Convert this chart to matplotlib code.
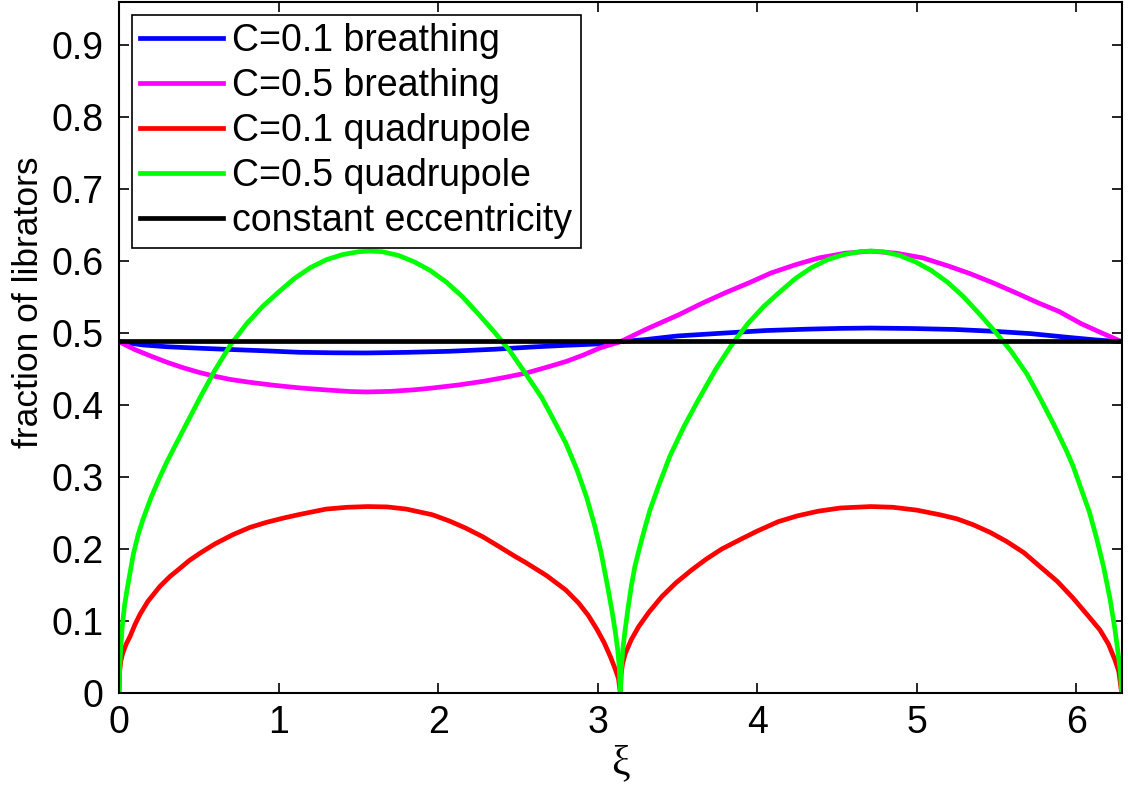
import matplotlib
matplotlib.use("Agg")
import matplotlib.pyplot as plt
from matplotlib.ticker import FuncFormatter

# values
x_quad1 = [0, 0.004, 0.01, 0.02, 0.035, 0.05, 0.07, 0.09, 0.12, 0.15, 0.2, 0.25, 0.3, 0.36, 0.43,
           0.5, 0.6, 0.7, 0.8, 0.9, 1.0, 1.1, 1.2, 1.3, 1.4, 1.5, 1.571, 1.65, 1.75, 1.85, 1.95, 2.05,
           2.15, 2.25, 2.35, 2.45, 2.55, 2.65, 2.72, 2.8, 2.87, 2.93, 2.98, 3.02, 3.06, 3.09, 3.11,
           3.125, 3.135, 3.1416]
green_1 = [0, 0.035, 0.058, 0.092, 0.122, 0.143, 0.168, 0.193, 0.22, 0.241, 0.271, 0.297, 0.321, 0.347,
           0.377, 0.407, 0.448, 0.484, 0.513, 0.537, 0.557, 0.576, 0.591, 0.602, 0.609, 0.613, 0.614,
           0.613, 0.608, 0.599, 0.587, 0.571, 0.551, 0.527, 0.502, 0.475, 0.443, 0.41, 0.381, 0.347,
           0.31, 0.272, 0.233, 0.196, 0.15, 0.113, 0.085, 0.06, 0.035, 0]

x_red1 = [0, 0.004, 0.012, 0.023, 0.045, 0.07, 0.1, 0.131, 0.18, 0.256, 0.32, 0.381, 0.44, 0.506,
          0.6, 0.714, 0.82, 0.923, 1.03, 1.131, 1.22, 1.298, 1.43, 1.558, 1.68, 1.8, 1.964, 2.07,
          2.173, 2.28, 2.381, 2.48, 2.55, 2.68, 2.8, 2.88, 2.94, 2.996, 3.04, 3.08, 3.11, 3.13, 3.1416]
red_1 = [0, 0.03, 0.045, 0.055, 0.068, 0.079, 0.095, 0.109, 0.127, 0.148, 0.162, 0.173, 0.184, 0.194,
         0.207, 0.22, 0.23, 0.237, 0.243, 0.248, 0.252, 0.2555, 0.258, 0.259, 0.2585, 0.2555, 0.2476,
         0.239, 0.229, 0.217, 0.2035, 0.19, 0.181, 0.163, 0.143, 0.125, 0.108, 0.088, 0.07, 0.05,
         0.033, 0.02, 0]

x_quad2 = [3.1416, 3.148, 3.157, 3.17, 3.19, 3.21, 3.233, 3.26, 3.29, 3.327, 3.38, 3.452, 3.54, 3.63,
           3.74, 3.84, 3.94, 4.04, 4.14, 4.24, 4.34, 4.44, 4.54, 4.64, 4.712, 4.79, 4.89, 4.99, 5.09,
           5.19, 5.29, 5.39, 5.49, 5.59, 5.69, 5.771, 5.86, 5.94, 5.979, 6.03, 6.08, 6.126, 6.17,
           6.209, 6.24, 6.261, 6.275, 6.2832]
green_2 = [0, 0.035, 0.06, 0.085, 0.118, 0.148, 0.176, 0.2, 0.225, 0.254, 0.287, 0.329, 0.37, 0.407,
           0.45, 0.484, 0.513, 0.537, 0.557, 0.576, 0.591, 0.602, 0.609, 0.613, 0.614, 0.613, 0.608,
           0.599, 0.587, 0.571, 0.551, 0.527, 0.502, 0.475, 0.443, 0.41, 0.372, 0.335, 0.315, 0.283,
           0.252, 0.215, 0.175, 0.132, 0.09, 0.055, 0.03, 0]

x_red2 = [3.1416, 3.146, 3.155, 3.173, 3.21, 3.256, 3.32, 3.402, 3.49, 3.589, 3.68, 3.777, 3.9, 4.0,
          4.131, 4.25, 4.38, 4.52, 4.712, 4.85, 5.0, 5.144, 5.25, 5.353, 5.46, 5.562, 5.67, 5.771,
          5.88, 5.979, 6.07, 6.147, 6.2, 6.241, 6.265, 6.2832]
red_2 = [0, 0.025, 0.04, 0.055, 0.074, 0.092, 0.112, 0.134, 0.153, 0.171, 0.186, 0.2, 0.214, 0.225,
         0.238, 0.246, 0.2525, 0.257, 0.259, 0.258, 0.254, 0.2476, 0.242, 0.2337, 0.223, 0.2105,
         0.195, 0.1757, 0.155, 0.1317, 0.108, 0.0876, 0.068, 0.046, 0.03, 0]

x_blue = [0, 0.15, 0.3, 0.5, 0.72, 0.9, 1.13, 1.35, 1.55, 1.8, 2.07, 2.35, 2.6, 2.8, 3.01, 3.1416,
          3.3, 3.5, 3.79, 4.05, 4.32, 4.52, 4.71, 4.98, 5.24, 5.48, 5.71, 5.95, 6.12, 6.2832]
blue = [0.488, 0.4835, 0.481, 0.479, 0.477, 0.4755, 0.4733, 0.4726, 0.4724, 0.4732, 0.4747, 0.4775,
        0.4808, 0.483, 0.485, 0.488, 0.491, 0.496, 0.5, 0.5035, 0.5055, 0.5065, 0.507, 0.5063, 0.505,
        0.5025, 0.4993, 0.494, 0.4905, 0.488]

x_magenta = [0, 0.1, 0.2, 0.3, 0.4, 0.5, 0.6, 0.7, 0.82, 0.97, 1.134, 1.3, 1.45, 1.552, 1.7, 1.85,
             1.969, 2.13, 2.283, 2.42, 2.554, 2.7, 2.805, 2.91, 3.014, 3.1416, 3.3, 3.51, 3.65, 3.799,
             3.95, 4.088, 4.24, 4.388, 4.55, 4.712, 4.87, 5.036, 5.2, 5.34, 5.475, 5.62, 5.76, 5.891,
             6.03, 6.16, 6.2832]
magenta = [0.488, 0.477, 0.468, 0.4595, 0.452, 0.4455, 0.44, 0.4355, 0.4316, 0.4275, 0.4238, 0.421,
           0.4188, 0.4182, 0.419, 0.4212, 0.4238, 0.428, 0.433, 0.4385, 0.4446, 0.4538, 0.4608, 0.4695,
           0.4794, 0.488, 0.505, 0.5257, 0.541, 0.556, 0.570, 0.5837, 0.595, 0.6045, 0.611, 0.6138,
           0.611, 0.6045, 0.593, 0.582, 0.57, 0.556, 0.542, 0.53, 0.513, 0.5, 0.488]

x_const = [0, 6.2832]
const_ecc = [0.4886, 0.4886]

labels = ['C=0.1 breathing', 'C=0.5 breathing', 'C=0.1 quadrupole',
          'C=0.5 quadrupole', 'constant eccentricity']

plt.rcParams['font.family'] = ['Liberation Sans', 'DejaVu Sans']

fig = plt.figure(figsize=(11.28, 7.89), dpi=100)
ax = fig.add_axes([0.1055, 0.1217, 0.8889, 0.8758])

lw = 3.4
ax.plot(x_blue, blue, color='#0000ff', lw=lw, label=labels[0])
ax.plot(x_magenta, magenta, color='#ff00ff', lw=lw, label=labels[1])
ax.plot(x_red1, red_1, color='#ff0000', lw=lw, label=labels[2])
ax.plot(x_red2, red_2, color='#ff0000', lw=lw)
ax.plot(x_quad1, green_1, color='#00ff00', lw=lw, label=labels[3])
ax.plot(x_quad2, green_2, color='#00ff00', lw=lw)
ax.plot(x_const, const_ecc, color='#000000', lw=lw, label=labels[4])

ax.set_xlim(0, 6.2832)
ax.set_ylim(0, 0.96)
ax.set_xticks(range(0, 7))
ax.set_yticks([i / 10 for i in range(10)])
ax.yaxis.set_major_formatter(FuncFormatter(lambda v, p: f'{v:g}'))
ax.tick_params(direction='in', length=7, width=1.2, labelsize=27, top=True, right=True, pad=11)
ax.tick_params(axis='x', pad=9)
for s in ax.spines.values():
    s.set_linewidth(1.5)

ax.set_xlabel('ξ', fontsize=30, family=['Liberation Serif', 'DejaVu Serif'])
ax.xaxis.set_label_coords(0.5, -0.075)
ax.set_ylabel('fraction of librators', fontsize=25.5)
ax.yaxis.set_label_coords(-0.074, 0.566)

leg = ax.legend(loc='upper left', fontsize=27, frameon=True, fancybox=False,
                edgecolor='black', framealpha=1, handlelength=2.2, handletextpad=0.25,
                labelspacing=0.24, borderpad=0.22, borderaxespad=0.35)
leg.get_frame().set_linewidth(1.2)

fig.savefig('out.png', dpi=100)
